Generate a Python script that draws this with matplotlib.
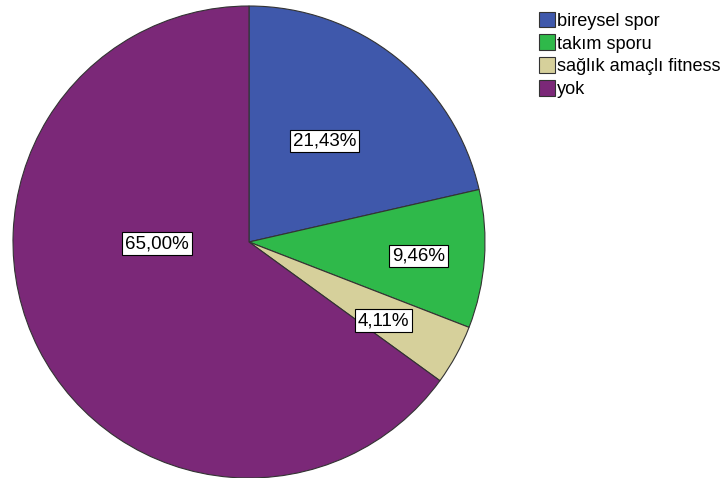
import numpy as np
import matplotlib
matplotlib.use("Agg")
import matplotlib.pyplot as plt
from matplotlib.patches import Patch

plt.rcParams['font.family'] = ['Liberation Sans', 'DejaVu Sans']

categories = ["bireysel spor", "takım sporu", "sağlık amaçlı fitness", "yok"]
percentages = [21.43, 9.46, 4.11, 65.00]
colors = ["#3f58ab", "#2fb94a", "#d6d09b", "#7b2878"]

# label placement (fraction of radius, angle in degrees)
label_radius = [0.535, 0.72, 0.66, 0.39]
label_angle = [53.0, -4.7, -30.3, 181.0]

fig = plt.figure(figsize=(7.25, 4.78), dpi=100)
ax = fig.add_axes([13 / 725, 0.0, 472 / 725, 472 / 478])
ax.set_aspect('equal')

wedges, _ = ax.pie(percentages, colors=colors, startangle=90, counterclock=False,
                   radius=1.0, wedgeprops=dict(edgecolor="#333333", linewidth=0.8))
ax.set_xlim(-1, 1)
ax.set_ylim(-1, 1)

for pct, r, a in zip(percentages, label_radius, label_angle):
    x = r * np.cos(np.radians(a))
    y = r * np.sin(np.radians(a))
    txt = f"{pct:.2f}%".replace(".", ",")
    ax.text(x, y, txt, ha="center", va="center", fontsize=13.5,
            bbox=dict(boxstyle="square,pad=0.15", facecolor="white",
                      edgecolor="black", linewidth=0.8))

handles = [Patch(facecolor=c, edgecolor="#333333", linewidth=0.8) for c in colors]
fig.legend(handles, categories, loc="upper left", bbox_to_anchor=(535 / 725, 1 - 8 / 478),
           frameon=False, fontsize=13.1, handlelength=0.9, handleheight=0.95,
           handletextpad=0.12, labelspacing=0.26, borderpad=0.2, borderaxespad=0)

fig.savefig("out.png", dpi=100)
